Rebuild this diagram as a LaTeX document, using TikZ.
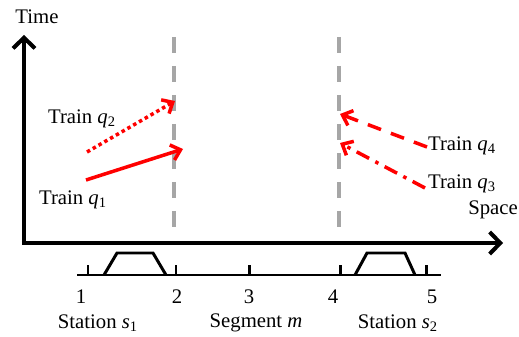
\documentclass[tikz,border=0pt]{standalone}
\usepackage{fontspec}
\setmainfont{Liberation Serif}
\usetikzlibrary{arrows.meta}
\newcommand{\itsub}[2]{\textit{#1}\textsubscript{#2}}
\definecolor{bordergray}{RGB}{166,166,166}
\begin{document}
\begin{tikzpicture}[x=0.02cm, y=-0.02cm, font=\fontsize{11.8}{14}\selectfont,
  axis/.style={line width=2.3pt, -{Straight Barb[length=6pt,width=12.5pt]}},
  border/.style={bordergray, line width=2pt, dash pattern=on 9pt off 7.5pt},
  train/.style={red, line width=2pt, -{Straight Barb[length=5pt,width=9pt]}},
  track/.style={line width=1.7pt}]
\useasboundingbox (0,0) rectangle (519,337);

% axes
\coordinate (o) at (24,243);
\coordinate (ttop) at (24,35);
\coordinate (send) at (503,243);
\draw[axis] (o) -- (ttop);
\draw[axis] ([xshift=-1.15pt]o) -- (send);
\node (time) at (37,17) {Time};
\node (space) at (493,210) {Space};

% segment borders
\coordinate (b1top) at (174,37);
\coordinate (b1bot) at (174,233);
\coordinate (b2top) at (339,37);
\coordinate (b2bot) at (339,233);
\draw[border] (b1top) -- (b1bot);
\draw[border] (b2top) -- (b2bot);

% trains
\coordinate (q1s) at (86,180);
\coordinate (q1e) at (183,149);
\coordinate (q2s) at (87,152);
\coordinate (q2e) at (175,101);
\coordinate (q4s) at (427,147);
\coordinate (q4e) at (340,114);
\coordinate (q3s) at (425,188);
\coordinate (q3e) at (340,143);
\draw[train] (q1s) -- (q1e);
\draw[train, dash pattern=on 2pt off 1.8pt] (q2s) -- (q2e);
\draw[train, dash pattern=on 8pt off 6pt] (q4s) -- (q4e);
\draw[train, dash pattern=on 8pt off 4pt on 2pt off 4pt] (q3s) -- (q3e);
\node (l1) at (73,200) {Train \itsub{q}{1}};
\node (l2) at (82,119) {Train \itsub{q}{2}};
\node (l3) at (462,184) {Train \itsub{q}{3}};
\node (l4) at (462,146) {Train \itsub{q}{4}};

% track with stations
\coordinate (tl) at (77,275);
\coordinate (tr) at (441,275);
\draw[track] (tl) -- (tr);
\foreach \x in {88,176,249,340,426}
  \draw[track] (\x,275) -- (\x,265);
\draw[track] (104,275) -- (117,253) -- (153,253) -- (166,275);
\draw[track] (355,275) -- (367,253) -- (405,253) -- (415,275);
\foreach \x/\n in {81/1,177/2,249/3,333/4,432/5}
  \node (p\n) at (\x,297) {\n};
\node (st1) at (98,323) {Station \itsub{s}{1}};
\node (seg) at (256,323) {Segment \textit{m}};
\node (st2) at (398,323) {Station \itsub{s}{2}};
\end{tikzpicture}
\end{document}
